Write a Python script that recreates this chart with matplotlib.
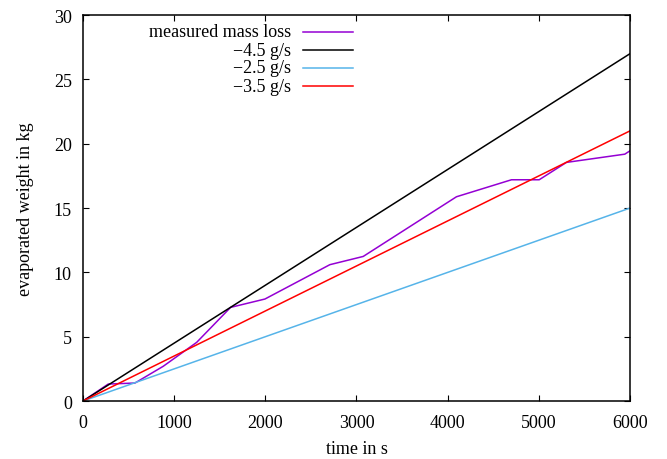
import matplotlib
matplotlib.use('Agg')
from matplotlib import pyplot
from matplotlib.lines import Line2D

time_s = [0, 277, 570, 880, 1247, 1619, 1996, 2708, 3074, 4097, 4700, 5004, 5303, 5943, 6000]
mass_kg = [0, 1.32, 1.4, 2.7, 4.56, 7.28, 7.93, 10.6, 11.24, 15.88, 17.2, 17.2, 18.55, 19.19, 19.45]

# constant-rate reference lines (end points)
rate_t = [0, 6000]
rate_45 = [0, 27.0]
rate_25 = [0, 15.0]
rate_35 = [0, 21.0]

labels = ['measured mass loss', '\u22124.5 g/s', '\u22122.5 g/s', '\u22123.5 g/s']
colors = ['#9400d3', 'black', '#56b4e9', '#ff0000']

xticks = [0, 1000, 2000, 3000, 4000, 5000, 6000]
yticks = [0, 5, 10, 15, 20, 25, 30]

pyplot.rcParams['font.family'] = 'Liberation Serif'
pyplot.rcParams['font.size'] = 13

fig = pyplot.figure(figsize=(6.67, 4.6), dpi=100)
ax = fig.add_axes([0.1244, 0.126, 0.8201, 0.839])

series = [(time_s, mass_kg), (rate_t, rate_45), (rate_t, rate_25), (rate_t, rate_35)]
for (x, y), c in zip(series, colors):
    ax.plot(x, y, color=c, linewidth=1.1)

ax.set_xlim(0, 6000)
ax.set_ylim(0, 30)
ax.set_xticks(xticks)
ax.set_yticks(yticks)
ax.tick_params(direction='in', length=4.5, width=0.8, top=True, right=True, labelsize=13)
ax.tick_params(axis='x', pad=9)
ax.tick_params(axis='y', pad=8)
for s in ax.spines.values():
    s.set_linewidth(1.1)

ax.set_xlabel('time in s', fontsize=13, labelpad=7)
ax.set_ylabel('evaporated weight in kg', fontsize=13, labelpad=14)

# gnuplot-style key: right aligned text, sample line to the right
key_y = [0.957, 0.909, 0.863, 0.815]
for lab, c, ky in zip(labels, colors, key_y):
    ax.text(0.380, ky, lab, transform=ax.transAxes, ha='right', va='center', fontsize=13)
    ax.add_line(Line2D([0.402, 0.494], [ky, ky], transform=ax.transAxes, color=c, linewidth=1.1))

pyplot.savefig('out.png', dpi=100)
